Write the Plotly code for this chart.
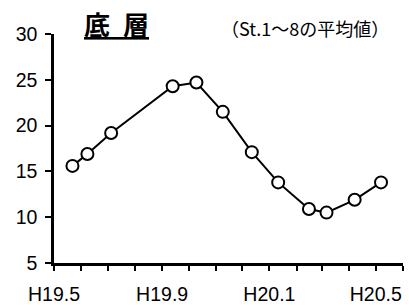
import plotly.graph_objects as go

dates = ["2007-05-22", "2007-06-08", "2007-07-05", "2007-09-13", "2007-10-10",
         "2007-11-09", "2007-12-12", "2008-01-11", "2008-02-15", "2008-03-06",
         "2008-04-07", "2008-05-07"]
values = [15.6, 16.9, 19.2, 24.3, 24.7, 21.5, 17.1, 13.8, 10.9, 10.5, 11.9, 13.8]

month_ticks = ["2007-05-01", "2007-06-01", "2007-07-01", "2007-08-01", "2007-09-01",
               "2007-10-01", "2007-11-01", "2007-12-01", "2008-01-01", "2008-02-01",
               "2008-03-01", "2008-04-01", "2008-05-01", "2008-06-01"]
month_labels = ["H19.5", "", "", "", "H19.9", "", "", "", "H20.1", "", "", "", "H20.5", ""]

L, R, T, B = 54, 6, 34, 42
W, H = 409, 305

fig = go.Figure()
fig.add_trace(go.Scatter(
    x=dates, y=values, mode="lines+markers",
    line=dict(color="black", width=2),
    marker=dict(symbol="circle", size=12, color="white",
                line=dict(color="black", width=2)),
    cliponaxis=False,
))

fig.update_layout(
    width=W, height=H,
    margin=dict(l=L, r=R, t=T, b=B),
    paper_bgcolor="white", plot_bgcolor="white",
    font=dict(family="Liberation Sans, Arial, sans-serif", size=19, color="black"),
    showlegend=False,
    xaxis=dict(
        type="date",
        range=["2007-05-01", "2008-06-01"],
        tickmode="array", tickvals=month_ticks, ticktext=month_labels,
        ticks="outside", ticklen=5, tickwidth=2, tickcolor="black",
        showline=True, linecolor="black", linewidth=2.5,
        showgrid=False, zeroline=False,
        tickfont=dict(size=19.5),
        ticklabelstandoff=7,
        automargin=False,
    ),
    yaxis=dict(
        range=[5, 30], tickvals=[5, 10, 15, 20, 25, 30],
        ticks="outside", ticklen=6, tickwidth=2, tickcolor="black",
        showline=True, linecolor="black", linewidth=2.5,
        showgrid=False, zeroline=False,
        tickfont=dict(size=19.5),
        ticklabelstandoff=4,
        automargin=False,
    ),
)

pw = W - L - R
ph = H - T - B

def px2paper(px, py):
    return (px - L) / pw, (H - B - py) / ph

tx, ty = px2paper(116, 23)
ax_, ay_ = px2paper(305, 28)
fig.add_annotation(text="<b><u>底\u2002層</u></b>", x=tx, y=ty, xref="paper", yref="paper",
                   showarrow=False, font=dict(size=26, family="Noto Sans CJK JP"),
                   xanchor="center", yanchor="middle")
fig.add_annotation(text="（St.1～8の平均値）", x=ax_, y=ay_, xref="paper", yref="paper",
                   showarrow=False, font=dict(size=18, family="Noto Sans CJK JP"),
                   xanchor="center", yanchor="middle")

fig.write_html("out.html", config={"displayModeBar": False},
               post_script="document.body.style.margin='0';")
